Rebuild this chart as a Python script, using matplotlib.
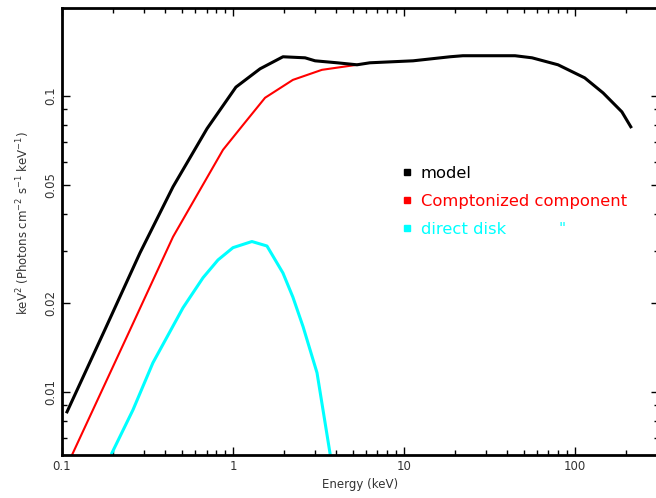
import numpy as np
import matplotlib
matplotlib.use("Agg")
import matplotlib.pyplot as plt
from matplotlib.lines import Line2D
from matplotlib.ticker import FixedLocator, FixedFormatter, LogLocator, NullFormatter

# Spectral model components (E in keV, E^2 F(E))
model_e = [0.107, 0.178, 0.286, 0.446, 0.705, 1.04, 1.44, 1.96, 2.64, 3.02,
           4.06, 5.31, 6.32, 11.3, 18.6, 22.1, 44.6, 56.1, 79.6, 114, 146, 188, 212]
model_f = [0.00856, 0.0162, 0.0295, 0.0493, 0.0775, 0.107, 0.1234, 0.1355,
           0.1344, 0.1313, 0.1293, 0.1273, 0.1293, 0.1313, 0.1355, 0.1366, 0.1366,
           0.1344, 0.1273, 0.115, 0.1023, 0.0883, 0.0786]

compt_e = [0.1144, 0.250, 0.446, 0.874, 1.16, 1.54, 2.24, 3.31, 5.31]
compt_f = [0.00612, 0.0162, 0.0334, 0.0657, 0.0805, 0.0985, 0.1132, 0.1224, 0.1273]

disk_e = [0.196, 0.260, 0.340, 0.510, 0.668, 0.817, 1.0, 1.29, 1.58, 1.96, 2.24,
          2.57, 3.10, 3.69]
disk_f = [0.00622, 0.00869, 0.01253, 0.01923, 0.0243, 0.0279, 0.0307, 0.0322,
          0.0311, 0.0252, 0.0209, 0.0166, 0.0116, 0.00622]

labels = ["model", "Comptonized component", "direct disk"]
colors = ["black", "red", "cyan"]

fig = plt.figure(figsize=(6.56, 4.98), dpi=100)
ax = fig.add_axes([62 / 656, 43 / 498, 597 / 656, 447 / 498])

ax.plot(compt_e, compt_f, color="red", lw=1.5)
ax.plot(disk_e, disk_f, color="cyan", lw=2.2)
ax.plot(model_e, model_f, color="black", lw=2.2)

ax.set_xscale("log")
ax.set_yscale("log")
ax.set_xlim(0.1, 310)
ax.set_ylim(0.00612, 0.198)

ax.xaxis.set_major_locator(FixedLocator([0.1, 1, 10, 100]))
ax.xaxis.set_major_formatter(FixedFormatter(["0.1", "1", "10", "100"]))
ax.xaxis.set_minor_locator(LogLocator(base=10, subs=np.arange(2, 10)))
ax.xaxis.set_minor_formatter(NullFormatter())
ax.yaxis.set_major_locator(FixedLocator([0.01, 0.02, 0.05, 0.1]))
ax.yaxis.set_major_formatter(FixedFormatter(["0.01", "0.02", "0.05", "0.1"]))
ax.yaxis.set_minor_locator(LogLocator(base=10, subs=np.arange(2, 10)))
ax.yaxis.set_minor_formatter(NullFormatter())

ax.tick_params(which="both", direction="in", top=True, right=True, width=1,
               labelsize=8.5, colors="black", labelcolor="#333333")
ax.tick_params(which="major", length=6)
ax.tick_params(which="minor", length=3.5)
for lab in ax.get_yticklabels():
    lab.set_rotation(90)
    lab.set_va("center")
for s in ax.spines.values():
    s.set_linewidth(2)

ax.set_xlabel("Energy (keV)", fontsize=8.5, labelpad=4, color="#333333")
ax.set_ylabel(r"keV$^2$ (Photons cm$^{-2}$ s$^{-1}$ keV$^{-1}$)", fontsize=8.5,
              color="#333333")
ax.yaxis.set_label_coords(-0.05, 0.52)

handles = [Line2D([], [], marker="s", color=c, linestyle="none", markersize=5) for c in colors]
leg = ax.legend(handles, labels, loc="upper left", bbox_to_anchor=(387 / 656, 347 / 498),
                bbox_transform=fig.transFigure, frameon=False, fontsize=11.8,
                handlelength=0.6, handletextpad=0.55, labelspacing=0.8, labelcolor=colors)
fig.text(562 / 656, 1 - 229 / 498, '"', color="cyan", fontsize=11, ha="center", va="center")

fig.savefig("out.png", dpi=100)
